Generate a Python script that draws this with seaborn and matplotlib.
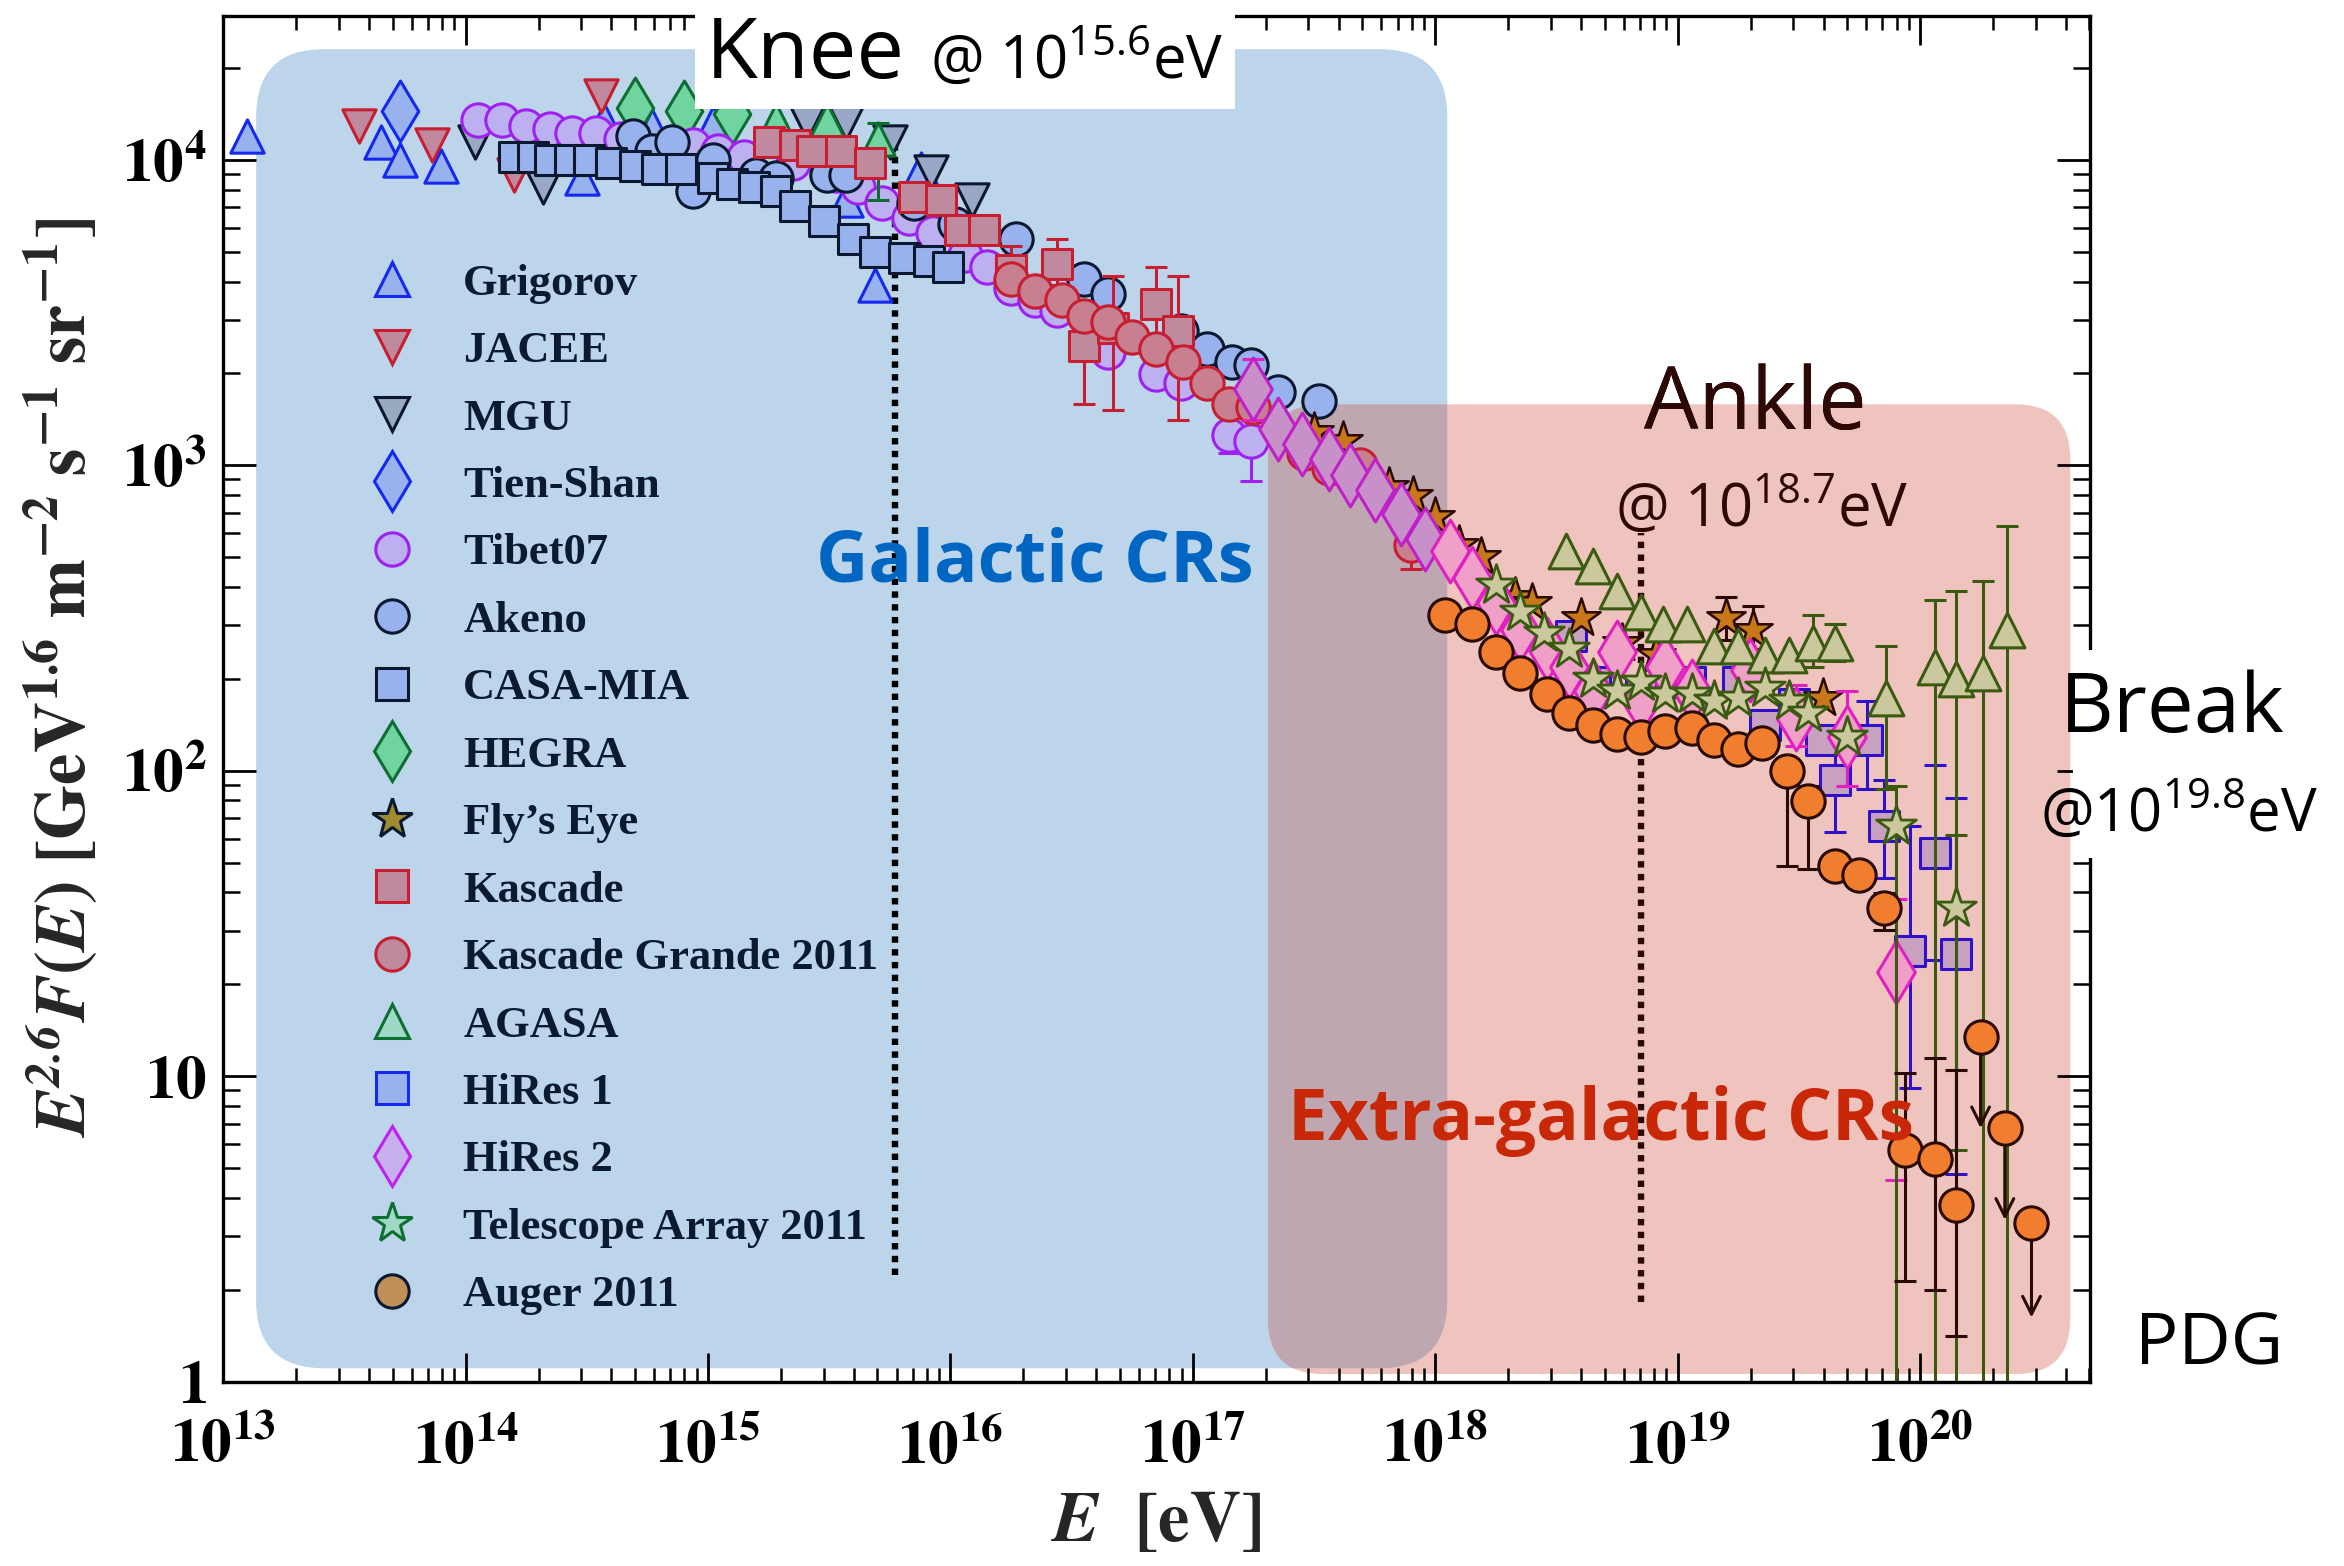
import numpy as np
import pandas as pd
import matplotlib
matplotlib.use("Agg")
import matplotlib.pyplot as plt
import seaborn as sns
from matplotlib.lines import Line2D
from matplotlib.patches import FancyBboxPatch, Rectangle
from matplotlib.ticker import FixedLocator, LogLocator, NullFormatter, FuncFormatter
from matplotlib.font_manager import FontProperties

# ---------------------------------------------------------------------------
# Cosmic-ray all-particle spectrum, E^2.6 F(E) in GeV^1.6 m^-2 s^-1 sr^-1.
# Energies and fluxes are given as log10 values.
# ---------------------------------------------------------------------------
grigorov_log_e = [13.10, 13.65, 13.73, 13.90, 14.48, 14.57, 14.77, 15.02, 15.57, 15.69, 15.88]
grigorov_log_f = [4.08, 4.06, 4.00, 3.98, 3.94, 4.13, 4.11, 4.12, 3.87, 3.59, 3.97]

jacee_log_e = [13.56, 13.86, 14.20, 14.56]
jacee_log_f = [4.11, 4.05, 3.95, 4.21]

mgu_log_e = [14.04, 14.32, 15.41, 15.57, 15.75, 15.92, 16.09]
mgu_log_f = [4.06, 3.91, 4.12, 4.12, 4.06, 3.96, 3.87]

tien_shan_log_e = [13.73]
tien_shan_log_f = [4.16]

tibet_log_e = [14.05, 14.15, 14.25, 14.35, 14.44, 14.54, 14.64, 14.94, 15.04, 15.15, 15.35, 15.53,
               15.62, 15.72, 15.83, 15.93, 16.06, 16.15, 16.25, 16.35, 16.44, 16.65, 16.85, 16.95,
               17.15, 17.24]
tibet_log_f = [4.13, 4.13, 4.11, 4.10, 4.09, 4.09, 4.07, 4.05, 4.03, 4.01, 3.99, 3.95,
               3.91, 3.86, 3.81, 3.76, 3.69, 3.65, 3.58, 3.54, 3.51, 3.37, 3.30, 3.27,
               3.10, 3.08]
tibet_bar_log_e = [16.95, 17.15, 17.24]
tibet_bar_lo = [3.23, 3.04, 2.95]
tibet_bar_hi = [3.30, 3.10, 3.08]

akeno_log_e = [14.69, 14.77, 14.85, 14.94, 15.02, 15.20, 15.28, 15.49, 15.57, 15.85, 16.02, 16.27,
               16.55, 16.65, 16.95, 17.06, 17.16, 17.24, 17.35, 17.52]
akeno_log_f = [4.08, 4.03, 4.06, 3.90, 4.00, 3.95, 3.94, 3.95, 3.95, 3.86, 3.79, 3.74,
               3.61, 3.56, 3.44, 3.38, 3.34, 3.33, 3.24, 3.21]

casa_mia_log_e = [14.20, 14.28, 14.35, 14.43, 14.51, 14.60, 14.70, 14.79, 14.89, 15.02, 15.10, 15.19,
                  15.28, 15.36, 15.48, 15.60, 15.69, 15.81, 15.91, 15.99]
casa_mia_log_f = [4.01, 4.01, 4.00, 4.00, 4.00, 3.99, 3.98, 3.97, 3.97, 3.94, 3.92, 3.91,
                  3.90, 3.85, 3.80, 3.74, 3.70, 3.68, 3.67, 3.65]

hegra_log_e = [14.70, 14.90, 15.10]
hegra_log_f = [4.17, 4.16, 4.15]

flys_eye_log_e = [17.50, 17.62, 17.81, 17.91, 18.00, 18.10, 18.19, 18.33, 18.40, 18.60, 18.77, 18.91,
                  19.20, 19.31, 19.60]
flys_eye_log_f = [3.11, 3.08, 2.93, 2.90, 2.83, 2.74, 2.70, 2.57, 2.55, 2.50, 2.42, 2.38,
                  2.50, 2.46, 2.24]
flys_eye_bar_log_e = [19.20, 19.31]
flys_eye_bar_lo = [2.43, 2.40]
flys_eye_bar_hi = [2.57, 2.54]

kascade_log_e = [15.25, 15.36, 15.43, 15.55, 15.67, 15.85, 15.96, 16.04, 16.14, 16.25, 16.44, 16.55,
                 16.67, 16.85, 16.94]
kascade_log_f = [4.06, 4.05, 4.03, 4.03, 3.99, 3.88, 3.87, 3.77, 3.77, 3.64, 3.66, 3.39,
                 3.45, 3.53, 3.44]
kascade_bar_log_e = [16.25, 16.44, 16.55, 16.67, 16.85, 16.94]
kascade_bar_lo = [3.59, 3.59, 3.20, 3.18, 3.42, 3.15]
kascade_bar_hi = [3.72, 3.74, 3.45, 3.62, 3.65, 3.62]

kascade_grande_log_e = [16.25, 16.35, 16.46, 16.55, 16.65, 16.75, 16.85, 16.96, 17.06, 17.15, 17.25,
                        17.46, 17.56, 17.69, 17.90]
kascade_grande_log_f = [3.61, 3.57, 3.54, 3.49, 3.47, 3.42, 3.38, 3.34, 3.27, 3.20, 3.19,
                        3.04, 2.99, 3.00, 2.74]
kascade_grande_bar_log_e = [17.90]
kascade_grande_bar_lo = [2.66]
kascade_grande_bar_hi = [2.74]

agasa_log_e = [15.28, 15.49, 15.70,
               18.54, 18.65, 18.75, 18.85, 18.94, 19.04, 19.15, 19.25, 19.36, 19.46, 19.56, 19.65,
               19.86, 20.06, 20.15, 20.26, 20.36]
agasa_log_f = [4.13, 4.13, 4.07,
               2.72, 2.67, 2.59, 2.52, 2.48, 2.48, 2.41, 2.41, 2.38, 2.38, 2.42, 2.42,
               2.24, 2.34, 2.30, 2.32, 2.46]
agasa_bar_log_e = [15.70, 19.56, 19.65, 19.86, 20.06, 20.15, 20.26, 20.36]
agasa_bar_lo = [3.87, 2.34, 2.36, 1.94, 0.00, 0.00, 0.00, 0.00]
agasa_bar_hi = [4.12, 2.51, 2.48, 2.41, 2.56, 2.59, 2.62, 2.80]

hires1_log_e = [18.56, 18.66, 18.85, 19.05, 19.25, 19.36, 19.48, 19.59, 19.65, 19.78, 19.85, 19.96,
                20.06, 20.15]
hires1_log_f = [2.44, 2.29, 2.26, 2.29, 2.29, 2.15, 2.22, 2.10, 1.97, 2.10, 1.82, 1.41,
                1.73, 1.40]
hires1_bar_log_e = [19.65, 19.78, 19.85, 19.96, 20.06, 20.15]
hires1_bar_lo = [1.80, 1.94, 1.65, 0.96, 1.38, 0.68]
hires1_bar_hi = [2.07, 2.23, 1.97, 1.82, 2.02, 1.91]

hires2_log_e = [17.25, 17.35, 17.45, 17.56, 17.65, 17.75, 17.86, 17.96, 18.06, 18.15, 18.25, 18.35,
                18.46, 18.55, 18.65, 18.75, 18.85, 18.95, 19.06, 19.30, 19.49, 19.70, 19.90]
hires2_log_f = [3.25, 3.12, 3.07, 3.02, 2.97, 2.92, 2.84, 2.76, 2.72, 2.63, 2.55, 2.46,
                2.40, 2.34, 2.26, 2.39, 2.23, 2.34, 2.26, 2.33, 2.17, 2.11, 1.34]
hires2_bar_log_e = [17.25, 19.49, 19.70, 19.90]
hires2_bar_lo = [3.15, 2.08, 1.95, 0.66]
hires2_bar_hi = [3.35, 2.28, 2.26, 1.58]

ta_log_e = [18.25, 18.35, 18.45, 18.55, 18.65, 18.75, 18.85, 18.95, 19.06, 19.15, 19.25, 19.36,
            19.46, 19.54, 19.70, 19.90, 20.15]
ta_log_f = [2.61, 2.52, 2.45, 2.40, 2.30, 2.26, 2.29, 2.25, 2.25, 2.23, 2.24, 2.27,
            2.23, 2.19, 2.11, 1.82, 1.55]
ta_bar_log_e = [19.90, 20.15]
ta_bar_lo = [0.00, 0.76]
ta_bar_hi = [1.95, 1.79]

auger_log_e = [18.04, 18.15, 18.25, 18.35, 18.46, 18.55, 18.65, 18.75, 18.85, 18.95, 19.06, 19.15,
               19.25, 19.35, 19.45, 19.54, 19.65, 19.75, 19.85, 19.94, 20.06, 20.15]
auger_log_f = [2.51, 2.48, 2.39, 2.32, 2.25, 2.19, 2.15, 2.12, 2.11, 2.13, 2.14, 2.10,
               2.07, 2.09, 2.00, 1.90, 1.69, 1.66, 1.55, 0.76, 0.73, 0.58]
auger_bar_log_e = [19.45, 19.54, 19.85, 19.94, 20.06, 20.15]
auger_bar_lo = [1.69, 1.68, 1.48, 0.33, 0.30, 0.15]
auger_bar_hi = [2.02, 1.95, 1.60, 1.01, 1.06, 1.02]
# Auger upper limits: measured point and arrow tip
auger_limit_log_e = [20.25, 20.35, 20.46]
auger_limit_log_f = [1.13, 0.83, 0.52]
auger_limit_tip = [0.83, 0.53, 0.21]

# Spectral features
knee_log_e = 15.77
ankle_log_e = 18.85
knee_line_span = (0.35, 4.11)
ankle_line_span = (0.26, 2.78)

# Shaded source regions (log10 E range, log10 flux range)
galactic_region = (13.136, 18.05, 0.044, 4.363)
extragalactic_region = (17.31, 20.62, 0.025, 3.20)

x_tick_exponents = [13, 14, 15, 16, 17, 18, 19, 20]
y_tick_labels = {1: r"$\mathbf{1}$", 10: r"$\mathbf{10}$", 100: r"$\mathbf{10^{2}}$",
                 1000: r"$\mathbf{10^{3}}$", 10000: r"$\mathbf{10^{4}}$"}

# ---------------------------------------------------------------------------
sns.set_theme(style="ticks")
plt.rcParams.update({
    "font.family": ["Liberation Serif", "DejaVu Serif"],
    "mathtext.fontset": "stix",
    "mathtext.rm": "Open Sans",
    "mathtext.it": "Open Sans:italic",
    "mathtext.bf": "Open Sans:bold",
    "axes.linewidth": 2.4,
    "axes.edgecolor": "black",
})

fig = plt.figure(figsize=(23.44, 15.66), dpi=100)
ax = fig.add_axes([0.0952, 0.1177, 0.7963, 0.8718])
ax.set_xscale("log")
ax.set_yscale("log")
ax.set_xlim(1e13, 10 ** 20.70)
ax.set_ylim(1, 10 ** 4.47)
ax.set_facecolor("white")

to_inch = fig.dpi_scale_trans.inverted()


def region_patch(region, radius, color, zorder):
    e0, e1, f0, f1 = region
    p0 = to_inch.transform(ax.transData.transform((10 ** e0, 10 ** f0)))
    p1 = to_inch.transform(ax.transData.transform((10 ** e1, 10 ** f1)))
    patch = FancyBboxPatch((p0[0], p0[1]), p1[0] - p0[0], p1[1] - p0[1],
                           boxstyle=f"round,pad=0,rounding_size={radius}",
                           transform=fig.dpi_scale_trans, facecolor=color,
                           edgecolor="none", zorder=zorder)
    ax.add_patch(patch)
    return patch


blue_box = region_patch(galactic_region, 0.68, "#BCD5EB", 0.3)
pink_box = region_patch(extragalactic_region, 0.55, "#F0C4BE", 0.4)
overlap_box = region_patch(extragalactic_region, 0.55, "#BEA7B0", 0.5)
overlap_box.set_clip_path(blue_box)

# Knee / ankle markers
ax.vlines(10 ** knee_log_e, 10 ** knee_line_span[0], 10 ** knee_line_span[1],
          colors="black", linestyles=(0, (1, 1.0)), linewidth=4.6, zorder=2)
ax.vlines(10 ** ankle_log_e, 10 ** ankle_line_span[0], 10 ** ankle_line_span[1],
          colors="#2A0805", linestyles=(0, (1, 1.0)), linewidth=4.6, zorder=2)


def draw_bars(log_e, lo, hi, color, zorder):
    e = 10 ** np.array(log_e)
    flo = 10 ** np.array(lo)
    fhi = 10 ** np.array(hi)
    ax.errorbar(e, flo, yerr=[np.zeros_like(flo), fhi - flo], fmt="none", ecolor=color,
                elinewidth=2.2, capsize=8, capthick=2.2, zorder=zorder)


def draw_series(log_e, log_f, marker, size, face, edge, zorder, lw=2.2):
    df = pd.DataFrame({"E": 10 ** np.array(log_e), "F": 10 ** np.array(log_f)})
    sns.scatterplot(data=df, x="E", y="F", marker=marker, s=size ** 2, color=face,
                    edgecolor=edge, linewidth=lw, ax=ax, zorder=zorder, legend=False)


NAVY = "#0A1830"
BLUE = "#1428F0"
LBLUE = "#98B2EE"
RED = "#C81E32"
MAUVE = "#C08A9E"
PURPLE = "#A020F0"
LAV = "#BCB0F0"
GREEN = "#0E6E32"
LGREEN = "#70D4A0"
OLIVE = "#3A5A10"
KHAKI = "#CCC89E"
BROWN = "#2A0A05"

draw_series(grigorov_log_e, grigorov_log_f, "^", 24, LBLUE, BLUE, 3)
draw_series(jacee_log_e, jacee_log_f, "v", 24, MAUVE, RED, 3)
draw_series(mgu_log_e, mgu_log_f, "v", 24, "#9AA8C8", NAVY, 3)
draw_series(tien_shan_log_e, tien_shan_log_f, "d", 31, LBLUE, BLUE, 3)
draw_series(hegra_log_e, hegra_log_f, "d", 31, LGREEN, GREEN, 3.1)
draw_bars(tibet_bar_log_e, tibet_bar_lo, tibet_bar_hi, PURPLE, 3.15)
draw_series(tibet_log_e, tibet_log_f, "o", 24, LAV, PURPLE, 3.2)
draw_series(akeno_log_e, akeno_log_f, "o", 24, LBLUE, NAVY, 3.3)
draw_series(casa_mia_log_e, casa_mia_log_f, "s", 22, LBLUE, NAVY, 3.4)
draw_bars(agasa_bar_log_e[:1], agasa_bar_lo[:1], agasa_bar_hi[:1], GREEN, 3.45)
draw_series(agasa_log_e[:3], agasa_log_f[:3], "^", 24, LGREEN, GREEN, 3.45)
draw_bars(kascade_bar_log_e, kascade_bar_lo, kascade_bar_hi, RED, 3.5)
draw_series(kascade_log_e, kascade_log_f, "s", 22, MAUVE, RED, 3.5)
draw_bars(kascade_grande_bar_log_e, kascade_grande_bar_lo, kascade_grande_bar_hi, RED, 3.6)
draw_series(kascade_grande_log_e, kascade_grande_log_f, "o", 24, "#C88090", RED, 3.6)
draw_bars(hires1_bar_log_e, hires1_bar_lo, hires1_bar_hi, "#3010C8", 3.7)
draw_series(hires1_log_e, hires1_log_f, "s", 22, "#C8A0C0", "#3010C8", 3.7)
draw_bars(flys_eye_bar_log_e, flys_eye_bar_lo, flys_eye_bar_hi, BROWN, 3.75)
draw_series(flys_eye_log_e, flys_eye_log_f, "*", 29, "#C87818", BROWN, 3.75, lw=1.8)
draw_bars(hires2_bar_log_e, hires2_bar_lo, hires2_bar_hi, "#E020C0", 3.8)
draw_series(hires2_log_e[:8], hires2_log_f[:8], "d", 32, "#C890C8", "#C020C8", 3.8)
draw_series(hires2_log_e[8:], hires2_log_f[8:], "d", 32, "#F0A0C8", "#E020C0", 3.8)
draw_bars(agasa_bar_log_e[1:], agasa_bar_lo[1:], agasa_bar_hi[1:], OLIVE, 3.9)
draw_series(agasa_log_e[3:], agasa_log_f[3:], "^", 25, KHAKI, OLIVE, 3.9)
draw_bars(ta_bar_log_e, ta_bar_lo, ta_bar_hi, OLIVE, 3.95)
draw_series(ta_log_e, ta_log_f, "*", 30, KHAKI, OLIVE, 3.95, lw=2.0)
draw_bars(auger_bar_log_e, auger_bar_lo, auger_bar_hi, BROWN, 4.0)
draw_series(auger_log_e + auger_limit_log_e, auger_log_f + auger_limit_log_f, "o", 24,
            "#F07E2E", BROWN, 4.0)
for le, lf, tip in zip(auger_limit_log_e, auger_limit_log_f, auger_limit_tip):
    ax.annotate("", xy=(10 ** le, 10 ** tip), xytext=(10 ** le, 10 ** lf),
                arrowprops=dict(arrowstyle="->", color=BROWN, lw=2.2, mutation_scale=32,
                                shrinkA=0, shrinkB=0), zorder=3.98)

# Axes, ticks and labels
ax.xaxis.set_major_locator(FixedLocator([10.0 ** k for k in x_tick_exponents]))
ax.xaxis.set_minor_locator(LogLocator(base=10, subs=np.arange(2, 10), numticks=30))
ax.xaxis.set_major_formatter(FuncFormatter(lambda v, p: r"$\mathbf{10^{%d}}$" % round(np.log10(v))))
ax.xaxis.set_minor_formatter(NullFormatter())
ax.yaxis.set_major_locator(FixedLocator(list(y_tick_labels.keys())))
ax.yaxis.set_minor_locator(LogLocator(base=10, subs=np.arange(2, 10), numticks=30))
ax.yaxis.set_major_formatter(FuncFormatter(lambda v, p: y_tick_labels.get(int(round(v)), "")))
ax.yaxis.set_minor_formatter(NullFormatter())
ax.tick_params(axis="both", which="both", direction="in", top=True, right=True, colors="black")
ax.tick_params(axis="x", which="major", length=21, width=2.0, labelsize=44, pad=27)
ax.tick_params(axis="x", which="minor", length=10, width=1.8)
ax.tick_params(axis="y", which="major", length=24, width=2.0, labelsize=44, pad=12)
ax.tick_params(axis="y", which="minor", length=12, width=1.8)
for s in ax.spines.values():
    s.set_zorder(6)

ax.set_xlabel(r"$\mathbfit{E}\ \ \mathbf{[eV]}$", fontsize=51)
ax.xaxis.set_label_coords(0.50, -0.080)
ax.set_ylabel(r"$\mathbfit{E}^{\mathbfit{2.6}}\mathbfit{F}\mathbf{(}\mathbfit{E}\mathbf{)}"
              r"\ \mathbf{[GeV^{1.6}\ m^{-2}\ s^{-1}\ sr^{-1}]}$", fontsize=51)
ax.yaxis.set_label_coords(-0.066, 0.516)

# Legend
legend_entries = [
    ("Grigorov", "^", 24, LBLUE, BLUE),
    ("JACEE", "v", 24, MAUVE, RED),
    ("MGU", "v", 24, "#98AAC0", NAVY),
    ("Tien-Shan", "d", 31, LBLUE, BLUE),
    ("Tibet07", "o", 24, LAV, PURPLE),
    ("Akeno", "o", 24, LBLUE, NAVY),
    ("CASA-MIA", "s", 23, LBLUE, NAVY),
    ("HEGRA", "d", 31, LGREEN, GREEN),
    ("Fly\u2019s Eye", "*", 30, "#A08A30", NAVY),
    ("Kascade", "s", 23, MAUVE, RED),
    ("Kascade Grande 2011", "o", 24, MAUVE, RED),
    ("AGASA", "^", 24, "#A0D8C8", GREEN),
    ("HiRes 1", "s", 23, LBLUE, BLUE),
    ("HiRes 2", "d", 31, "#C8B0F0", "#C020F0"),
    ("Telescope Array 2011", "*", 30, "#A0D8C8", GREEN),
    ("Auger 2011", "o", 24, "#C09058", NAVY),
]
handles = [Line2D([], [], linestyle="none", marker=m, markersize=ms, markerfacecolor=fc,
                  markeredgecolor=ec, markeredgewidth=2.2) for _, m, ms, fc, ec in legend_entries]
labels = [e[0] for e in legend_entries]
leg = ax.legend(handles, labels, loc="upper left", bbox_to_anchor=(0.0762, 0.8190),
                frameon=False, prop=FontProperties(family="Liberation Serif", weight="bold", size=32),
                labelspacing=0.615, handlelength=1.2, handletextpad=1.0, borderpad=0,
                borderaxespad=0, labelcolor="#0A1A30")
leg.set_zorder(5)

# Annotations
sans = ["Open Sans", "DejaVu Sans"]
fig.add_artist(Rectangle((0.2966, 0.9303), 0.2302, 0.0697, transform=fig.transFigure,
                         facecolor="white", edgecolor="none", zorder=10))
fig.text(0.301, 0.9504, "Knee", fontsize=61, family=sans, color="black", va="baseline", zorder=11)
fig.text(0.3967, 0.9504, r"@ $10^{15.6}$eV", fontsize=43, family=sans, color="black",
         va="baseline", math_fontfamily="custom", zorder=11)
fig.text(0.3482, 0.6288, "Galactic CRs", fontsize=52, family=sans, weight="bold", color="#0066C2",
         va="baseline", zorder=11)
fig.text(0.5497, 0.2719, "Extra-galactic CRs", fontsize=51, family=sans, weight="bold",
         color="#C82808", va="baseline", zorder=11)

ankle_kw = dict(fontsize=62, family=sans, va="baseline", transform=fig.transFigure)
ax.text(0.7015, 0.7261, "Ankle", color="black", zorder=11, **ankle_kw)
ankle_dark = ax.text(0.7015, 0.7261, "Ankle", color="#2E0804", zorder=12, **ankle_kw)
ankle_dark.set_clip_path(pink_box)
fig.text(0.6888, 0.6641, r"@ $10^{18.7}$eV", fontsize=43, family=sans, color="#2E0804",
         va="baseline", math_fontfamily="custom", zorder=11)

fig.add_artist(Rectangle((0.8845, 0.4523), 0.1155, 0.1326, transform=fig.transFigure,
                         facecolor="white", edgecolor="none", zorder=10))
fig.text(0.8788, 0.5324, "Break", fontsize=60, family=sans, color="black", va="baseline", zorder=11)
fig.text(0.8705, 0.4695, r"@$10^{19.8}$eV", fontsize=43, family=sans, color="black",
         va="baseline", math_fontfamily="custom", zorder=11)
fig.text(0.9107, 0.1288, "PDG", fontsize=52, family=sans, color="black", va="baseline", zorder=11)

fig.savefig("out.png", dpi=100, facecolor="white")
